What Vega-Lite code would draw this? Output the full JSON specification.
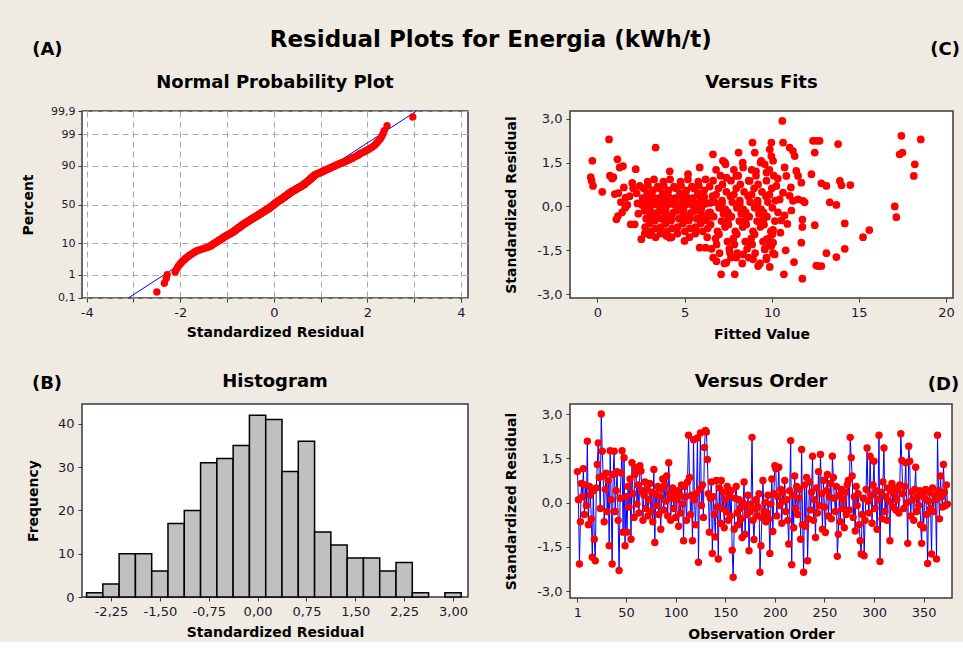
{
"$schema":"https://vega.github.io/schema/vega-lite/v6.json",
"background":"#EFEBE2",
"padding":{"left":20,"top":29,"right":3,"bottom":0},
"title":{"text":"Residual Plots for Energia (kWh/t)","fontSize":23,"frame":"bounds","anchor":"middle","offset":0,"dy":12},
"config":{
"font":"DejaVu Sans",
"view":{"stroke":"#3a3a3a","strokeWidth":1.5,"fill":"#FFFFFF"},
"axis":{"domain":false,"labelFont":"DejaVu Sans","labelFontSize":13,"labelColor":"#1a1a2e","titleFont":"DejaVu Sans","titleFontSize":14,"titleFontWeight":"bold","titleColor":"#000000","tickColor":"#3a3a3a","tickSize":4,"labelPadding":3,"labelFlush":false,"labelOverlap":false,"grid":false,"tickCount":20},
"title":{"font":"DejaVu Sans","fontSize":18,"fontWeight":"bold","color":"#000000","offset":0,"frame":"group"}
},
"columns":2,
"bounds":"flush",
"spacing":{"row":106,"column":102},
"datasets":{
"hist":[{"lo":-2.625,"hi":-2.375,"n":1},{"lo":-2.375,"hi":-2.125,"n":3},{"lo":-2.125,"hi":-1.875,"n":10},{"lo":-1.875,"hi":-1.625,"n":10},{"lo":-1.625,"hi":-1.375,"n":6},{"lo":-1.375,"hi":-1.125,"n":17},{"lo":-1.125,"hi":-0.875,"n":20},{"lo":-0.875,"hi":-0.625,"n":31},{"lo":-0.625,"hi":-0.375,"n":32},{"lo":-0.375,"hi":-0.125,"n":35},{"lo":-0.125,"hi":0.125,"n":42},{"lo":0.125,"hi":0.375,"n":41},{"lo":0.375,"hi":0.625,"n":29},{"lo":0.625,"hi":0.875,"n":36},{"lo":0.875,"hi":1.125,"n":15},{"lo":1.125,"hi":1.375,"n":12},{"lo":1.375,"hi":1.625,"n":9},{"lo":1.625,"hi":1.875,"n":9},{"lo":1.875,"hi":2.125,"n":6},{"lo":2.125,"hi":2.375,"n":8},{"lo":2.375,"hi":2.625,"n":1},{"lo":2.875,"hi":3.125,"n":1}],
"npp":[
{"r":-2.5,"z":-2.9},{"r":-2.34,"z":-2.61},{"r":-2.3,"z":-2.45},{"r":-2.28,"z":-2.33},{"r":-2.11,"z":-2.24},{"r":-2.09,"z":-2.17},{"r":-2.06,"z":-2.1},{"r":-2.04,"z":-2.04},{"r":-2.01,"z":-1.99},{"r":-1.99,"z":-1.95},
{"r":-1.96,"z":-1.9},{"r":-1.94,"z":-1.86},{"r":-1.91,"z":-1.83},{"r":-1.89,"z":-1.79},{"r":-1.86,"z":-1.76},{"r":-1.84,"z":-1.73},{"r":-1.81,"z":-1.7},{"r":-1.79,"z":-1.67},{"r":-1.76,"z":-1.65},{"r":-1.74,"z":-1.62},
{"r":-1.71,"z":-1.6},{"r":-1.69,"z":-1.57},{"r":-1.66,"z":-1.55},{"r":-1.64,"z":-1.53},{"r":-1.6,"z":-1.51},{"r":-1.56,"z":-1.49},{"r":-1.52,"z":-1.47},{"r":-1.48,"z":-1.45},{"r":-1.44,"z":-1.43},{"r":-1.4,"z":-1.41},
{"r":-1.37,"z":-1.39},{"r":-1.35,"z":-1.375},{"r":-1.34,"z":-1.358},{"r":-1.32,"z":-1.341},{"r":-1.31,"z":-1.325},{"r":-1.29,"z":-1.309},{"r":-1.28,"z":-1.293},{"r":-1.26,"z":-1.278},{"r":-1.25,"z":-1.263},{"r":-1.23,"z":-1.248},
{"r":-1.22,"z":-1.234},{"r":-1.2,"z":-1.22},{"r":-1.19,"z":-1.206},{"r":-1.17,"z":-1.192},{"r":-1.16,"z":-1.178},{"r":-1.15,"z":-1.165},{"r":-1.13,"z":-1.151},{"r":-1.12,"z":-1.14},{"r":-1.11,"z":-1.125},{"r":-1.09,"z":-1.113},
{"r":-1.08,"z":-1.1},{"r":-1.07,"z":-1.088},{"r":-1.06,"z":-1.076},{"r":-1.04,"z":-1.064},{"r":-1.03,"z":-1.052},{"r":-1.02,"z":-1.041},{"r":-1.01,"z":-1.029},{"r":-0.99,"z":-1.018},{"r":-0.98,"z":-1.007},{"r":-0.97,"z":-0.996},
{"r":-0.96,"z":-0.985},{"r":-0.94,"z":-0.974},{"r":-0.93,"z":-0.964},{"r":-0.92,"z":-0.953},{"r":-0.91,"z":-0.943},{"r":-0.89,"z":-0.932},{"r":-0.88,"z":-0.922},{"r":-0.87,"z":-0.91},{"r":-0.86,"z":-0.9},{"r":-0.85,"z":-0.89},
{"r":-0.85,"z":-0.88},{"r":-0.84,"z":-0.87},{"r":-0.83,"z":-0.86},{"r":-0.82,"z":-0.855},{"r":-0.81,"z":-0.845},{"r":-0.81,"z":-0.835},{"r":-0.8,"z":-0.826},{"r":-0.79,"z":-0.816},{"r":-0.78,"z":-0.807},{"r":-0.77,"z":-0.797},
{"r":-0.77,"z":-0.788},{"r":-0.76,"z":-0.779},{"r":-0.75,"z":-0.77},{"r":-0.74,"z":-0.761},{"r":-0.73,"z":-0.752},{"r":-0.73,"z":-0.743},{"r":-0.72,"z":-0.734},{"r":-0.71,"z":-0.726},{"r":-0.7,"z":-0.717},{"r":-0.69,"z":-0.708},
{"r":-0.69,"z":-0.699},{"r":-0.68,"z":-0.691},{"r":-0.67,"z":-0.682},{"r":-0.66,"z":-0.674},{"r":-0.65,"z":-0.665},{"r":-0.65,"z":-0.657},{"r":-0.64,"z":-0.648},{"r":-0.63,"z":-0.64},{"r":-0.62,"z":-0.632},{"r":-0.61,"z":-0.624},
{"r":-0.61,"z":-0.616},{"r":-0.6,"z":-0.608},{"r":-0.59,"z":-0.6},{"r":-0.58,"z":-0.592},{"r":-0.58,"z":-0.584},{"r":-0.57,"z":-0.576},{"r":-0.56,"z":-0.568},{"r":-0.55,"z":-0.56},{"r":-0.54,"z":-0.553},{"r":-0.54,"z":-0.545},
{"r":-0.53,"z":-0.537},{"r":-0.52,"z":-0.53},{"r":-0.51,"z":-0.522},{"r":-0.5,"z":-0.514},{"r":-0.5,"z":-0.507},{"r":-0.49,"z":-0.499},{"r":-0.48,"z":-0.491},{"r":-0.47,"z":-0.484},{"r":-0.47,"z":-0.476},{"r":-0.46,"z":-0.468},
{"r":-0.45,"z":-0.461},{"r":-0.44,"z":-0.454},{"r":-0.43,"z":-0.446},{"r":-0.43,"z":-0.439},{"r":-0.42,"z":-0.432},{"r":-0.41,"z":-0.424},{"r":-0.4,"z":-0.417},{"r":-0.4,"z":-0.41},{"r":-0.39,"z":-0.402},{"r":-0.38,"z":-0.395},
{"r":-0.37,"z":-0.388},{"r":-0.36,"z":-0.381},{"r":-0.36,"z":-0.374},{"r":-0.35,"z":-0.366},{"r":-0.34,"z":-0.359},{"r":-0.33,"z":-0.352},{"r":-0.33,"z":-0.345},{"r":-0.32,"z":-0.338},{"r":-0.31,"z":-0.331},{"r":-0.31,"z":-0.324},
{"r":-0.3,"z":-0.317},{"r":-0.29,"z":-0.31},{"r":-0.28,"z":-0.303},{"r":-0.28,"z":-0.295},{"r":-0.27,"z":-0.288},{"r":-0.26,"z":-0.281},{"r":-0.26,"z":-0.274},{"r":-0.25,"z":-0.267},{"r":-0.24,"z":-0.26},{"r":-0.24,"z":-0.253},
{"r":-0.23,"z":-0.246},{"r":-0.22,"z":-0.239},{"r":-0.21,"z":-0.233},{"r":-0.21,"z":-0.226},{"r":-0.2,"z":-0.219},{"r":-0.19,"z":-0.212},{"r":-0.19,"z":-0.205},{"r":-0.18,"z":-0.199},{"r":-0.17,"z":-0.192},{"r":-0.16,"z":-0.185},
{"r":-0.16,"z":-0.178},{"r":-0.15,"z":-0.171},{"r":-0.14,"z":-0.165},{"r":-0.14,"z":-0.158},{"r":-0.13,"z":-0.151},{"r":-0.12,"z":-0.144},{"r":-0.11,"z":-0.137},{"r":-0.11,"z":-0.131},{"r":-0.1,"z":-0.124},{"r":-0.1,"z":-0.117},
{"r":-0.09,"z":-0.11},{"r":-0.09,"z":-0.104},{"r":-0.08,"z":-0.097},{"r":-0.07,"z":-0.09},{"r":-0.07,"z":-0.084},{"r":-0.06,"z":-0.077},{"r":-0.06,"z":-0.07},{"r":-0.05,"z":-0.064},{"r":-0.05,"z":-0.057},{"r":-0.04,"z":-0.05},
{"r":-0.03,"z":-0.044},{"r":-0.03,"z":-0.037},{"r":-0.02,"z":-0.03},{"r":-0.02,"z":-0.023},{"r":-0.01,"z":-0.017},{"r":-0.01,"z":-0.01},{"r":0,"z":-0.003},{"r":0,"z":0.003},{"r":0.01,"z":0.01},{"r":0.01,"z":0.017},
{"r":0.02,"z":0.023},{"r":0.03,"z":0.03},{"r":0.03,"z":0.037},{"r":0.04,"z":0.044},{"r":0.04,"z":0.05},{"r":0.05,"z":0.057},{"r":0.05,"z":0.064},{"r":0.06,"z":0.07},{"r":0.07,"z":0.077},{"r":0.07,"z":0.084},
{"r":0.08,"z":0.09},{"r":0.08,"z":0.097},{"r":0.09,"z":0.104},{"r":0.09,"z":0.111},{"r":0.1,"z":0.117},{"r":0.11,"z":0.124},{"r":0.12,"z":0.131},{"r":0.13,"z":0.138},{"r":0.13,"z":0.144},{"r":0.14,"z":0.151},
{"r":0.14,"z":0.158},{"r":0.15,"z":0.165},{"r":0.16,"z":0.171},{"r":0.16,"z":0.178},{"r":0.17,"z":0.185},{"r":0.18,"z":0.192},{"r":0.18,"z":0.199},{"r":0.19,"z":0.205},{"r":0.19,"z":0.212},{"r":0.2,"z":0.219},
{"r":0.21,"z":0.226},{"r":0.21,"z":0.233},{"r":0.22,"z":0.24},{"r":0.22,"z":0.247},{"r":0.23,"z":0.253},{"r":0.24,"z":0.26},{"r":0.24,"z":0.267},{"r":0.25,"z":0.274},{"r":0.25,"z":0.281},{"r":0.26,"z":0.288},
{"r":0.27,"z":0.295},{"r":0.27,"z":0.302},{"r":0.28,"z":0.309},{"r":0.29,"z":0.316},{"r":0.29,"z":0.323},{"r":0.3,"z":0.331},{"r":0.3,"z":0.338},{"r":0.31,"z":0.345},{"r":0.32,"z":0.352},{"r":0.32,"z":0.359},
{"r":0.33,"z":0.366},{"r":0.33,"z":0.373},{"r":0.34,"z":0.381},{"r":0.35,"z":0.388},{"r":0.35,"z":0.395},{"r":0.36,"z":0.402},{"r":0.37,"z":0.41},{"r":0.37,"z":0.417},{"r":0.38,"z":0.424},{"r":0.39,"z":0.431},
{"r":0.4,"z":0.439},{"r":0.4,"z":0.446},{"r":0.41,"z":0.454},{"r":0.42,"z":0.461},{"r":0.43,"z":0.469},{"r":0.44,"z":0.476},{"r":0.45,"z":0.484},{"r":0.46,"z":0.491},{"r":0.47,"z":0.499},{"r":0.47,"z":0.506},
{"r":0.48,"z":0.514},{"r":0.49,"z":0.522},{"r":0.5,"z":0.529},{"r":0.51,"z":0.537},{"r":0.52,"z":0.545},{"r":0.53,"z":0.553},{"r":0.53,"z":0.561},{"r":0.54,"z":0.568},{"r":0.55,"z":0.576},{"r":0.56,"z":0.584},
{"r":0.57,"z":0.592},{"r":0.58,"z":0.6},{"r":0.59,"z":0.608},{"r":0.6,"z":0.616},{"r":0.6,"z":0.624},{"r":0.61,"z":0.632},{"r":0.62,"z":0.64},{"r":0.63,"z":0.648},{"r":0.64,"z":0.657},{"r":0.64,"z":0.665},
{"r":0.65,"z":0.674},{"r":0.66,"z":0.682},{"r":0.66,"z":0.691},{"r":0.67,"z":0.699},{"r":0.68,"z":0.708},{"r":0.68,"z":0.717},{"r":0.69,"z":0.726},{"r":0.7,"z":0.734},{"r":0.71,"z":0.743},{"r":0.71,"z":0.752},
{"r":0.72,"z":0.761},{"r":0.73,"z":0.77},{"r":0.73,"z":0.779},{"r":0.74,"z":0.788},{"r":0.75,"z":0.797},{"r":0.75,"z":0.806},{"r":0.76,"z":0.815},{"r":0.77,"z":0.825},{"r":0.78,"z":0.834},{"r":0.78,"z":0.843},
{"r":0.79,"z":0.853},{"r":0.8,"z":0.862},{"r":0.8,"z":0.872},{"r":0.81,"z":0.882},{"r":0.82,"z":0.892},{"r":0.82,"z":0.902},{"r":0.83,"z":0.912},{"r":0.84,"z":0.922},{"r":0.85,"z":0.932},{"r":0.85,"z":0.942},
{"r":0.86,"z":0.953},{"r":0.87,"z":0.964},{"r":0.87,"z":0.975},{"r":0.88,"z":0.986},{"r":0.9,"z":0.997},{"r":0.92,"z":1.008},{"r":0.93,"z":1.019},{"r":0.95,"z":1.03},{"r":0.97,"z":1.041},{"r":0.98,"z":1.053},
{"r":1,"z":1.065},{"r":1.02,"z":1.077},{"r":1.03,"z":1.089},{"r":1.05,"z":1.101},{"r":1.07,"z":1.113},{"r":1.08,"z":1.126},{"r":1.1,"z":1.138},{"r":1.12,"z":1.151},{"r":1.14,"z":1.165},{"r":1.16,"z":1.178},
{"r":1.18,"z":1.192},{"r":1.2,"z":1.206},{"r":1.22,"z":1.22},{"r":1.24,"z":1.234},{"r":1.26,"z":1.248},{"r":1.28,"z":1.263},{"r":1.3,"z":1.278},{"r":1.32,"z":1.293},{"r":1.34,"z":1.309},{"r":1.37,"z":1.324},
{"r":1.39,"z":1.341},{"r":1.42,"z":1.358},{"r":1.44,"z":1.375},{"r":1.47,"z":1.393},{"r":1.5,"z":1.41},{"r":1.53,"z":1.428},{"r":1.56,"z":1.447},{"r":1.58,"z":1.466},{"r":1.61,"z":1.486},{"r":1.64,"z":1.506},
{"r":1.67,"z":1.528},{"r":1.69,"z":1.55},{"r":1.72,"z":1.572},{"r":1.75,"z":1.596},{"r":1.78,"z":1.62},{"r":1.81,"z":1.645},{"r":1.83,"z":1.672},{"r":1.86,"z":1.7},{"r":1.9,"z":1.728},{"r":1.94,"z":1.759},
{"r":1.98,"z":1.791},{"r":2.02,"z":1.826},{"r":2.06,"z":1.863},{"r":2.1,"z":1.9},{"r":2.14,"z":1.945},{"r":2.17,"z":1.99},{"r":2.2,"z":2.04},{"r":2.23,"z":2.1},{"r":2.27,"z":2.165},{"r":2.3,"z":2.24},
{"r":2.33,"z":2.33},{"r":2.36,"z":2.45},{"r":2.42,"z":2.61},{"r":2.97,"z":2.9}
],
"obs":[
{"o":1,"r":1.05},{"o":2,"r":0.1},{"o":3,"r":-2.08},{"o":4,"r":-0.65},{"o":5,"r":0.65},{"o":6,"r":0.2},{"o":7,"r":1.15},{"o":8,"r":-0.4},{"o":9,"r":0.6},{"o":10,"r":-0.1},
{"o":11,"r":2.08},{"o":12,"r":-0.75},{"o":13,"r":0.55},{"o":14,"r":0.25},{"o":15,"r":-0.55},{"o":16,"r":-1.85},{"o":17,"r":0.4},{"o":18,"r":-1.24},{"o":19,"r":-1.97},{"o":20,"r":0.5},
{"o":21,"r":1.29},{"o":22,"r":2.02},{"o":23,"r":0.85},{"o":24,"r":-0.2},{"o":25,"r":3.0},{"o":26,"r":1.74},{"o":27,"r":0.9},{"o":28,"r":-0.65},{"o":29,"r":0.45},{"o":30,"r":1.0},
{"o":31,"r":-0.3},{"o":32,"r":0.75},{"o":33,"r":-1.46},{"o":34,"r":1.76},{"o":35,"r":0.1},{"o":36,"r":-2.08},{"o":37,"r":0.95},{"o":38,"r":1.74},{"o":39,"r":-0.3},{"o":40,"r":0.4},
{"o":41,"r":1.05},{"o":42,"r":-0.6},{"o":43,"r":-2.3},{"o":44,"r":0.15},{"o":45,"r":1.0},{"o":46,"r":1.76},{"o":47,"r":-1.0},{"o":48,"r":1.52},{"o":49,"r":-1.46},{"o":50,"r":0.2},
{"o":51,"r":-1.0},{"o":52,"r":0.55},{"o":53,"r":-0.15},{"o":54,"r":0.8},{"o":55,"r":-1.24},{"o":56,"r":1.35},{"o":57,"r":0.3},{"o":58,"r":-0.5},{"o":59,"r":0.95},{"o":60,"r":1.18},
{"o":61,"r":-0.05},{"o":62,"r":0.6},{"o":63,"r":-0.35},{"o":64,"r":1.25},{"o":65,"r":1.07},{"o":66,"r":0.4},{"o":67,"r":-0.6},{"o":68,"r":0.25},{"o":69,"r":0.7},{"o":70,"r":-0.2},
{"o":71,"r":0.45},{"o":72,"r":-0.45},{"o":73,"r":0.1},{"o":74,"r":0.65},{"o":75,"r":-0.3},{"o":76,"r":0.35},{"o":77,"r":-0.65},{"o":78,"r":1.12},{"o":79,"r":-1.35},{"o":80,"r":0.3},
{"o":81,"r":-0.1},{"o":82,"r":0.55},{"o":83,"r":-0.4},{"o":84,"r":0.2},{"o":85,"r":-0.9},{"o":86,"r":0.45},{"o":87,"r":0.8},{"o":88,"r":-0.25},{"o":89,"r":0.6},{"o":90,"r":0.05},
{"o":91,"r":0.9},{"o":92,"r":-0.45},{"o":93,"r":1.35},{"o":94,"r":0.3},{"o":95,"r":-0.6},{"o":96,"r":0.15},{"o":97,"r":0.5},{"o":98,"r":-0.2},{"o":99,"r":0.35},{"o":100,"r":-0.5},
{"o":101,"r":0.1},{"o":102,"r":0.4},{"o":103,"r":-0.8},{"o":104,"r":0.25},{"o":105,"r":-0.35},{"o":106,"r":0.6},{"o":107,"r":-0.05},{"o":108,"r":-1.29},{"o":109,"r":0.55},{"o":110,"r":0.2},
{"o":111,"r":-0.6},{"o":112,"r":0.7},{"o":113,"r":2.28},{"o":114,"r":0.85},{"o":115,"r":-0.4},{"o":116,"r":0.25},{"o":117,"r":-1.29},{"o":118,"r":2.13},{"o":119,"r":0.1},{"o":120,"r":-0.75},
{"o":121,"r":0.3},{"o":122,"r":2.19},{"o":123,"r":-2.02},{"o":124,"r":0.45},{"o":125,"r":2.36},{"o":126,"r":-0.1},{"o":127,"r":0.6},{"o":128,"r":-0.5},{"o":129,"r":1.87},{"o":130,"r":2.44},
{"o":131,"r":2.39},{"o":132,"r":1.46},{"o":133,"r":0.3},{"o":134,"r":-1.0},{"o":135,"r":0.15},{"o":136,"r":0.7},{"o":137,"r":-1.72},{"o":138,"r":0.2},{"o":139,"r":-0.4},{"o":140,"r":-1.16},
{"o":141,"r":0.75},{"o":142,"r":-0.15},{"o":143,"r":-1.91},{"o":144,"r":0.5},{"o":145,"r":-0.7},{"o":146,"r":0.75},{"o":147,"r":-0.2},{"o":148,"r":0.35},{"o":149,"r":-0.85},{"o":150,"r":0.1},
{"o":151,"r":-0.3},{"o":152,"r":0.55},{"o":153,"r":-0.6},{"o":154,"r":0.25},{"o":155,"r":-0.45},{"o":156,"r":0.4},{"o":157,"r":-1.61},{"o":158,"r":-2.53},{"o":159,"r":-0.9},{"o":160,"r":0.15},
{"o":161,"r":0.55},{"o":162,"r":-0.35},{"o":163,"r":-0.75},{"o":164,"r":0.1},{"o":165,"r":-0.2},{"o":166,"r":-0.55},{"o":167,"r":-1.18},{"o":168,"r":0.0},{"o":169,"r":0.7},{"o":170,"r":-1.07},
{"o":171,"r":-0.1},{"o":172,"r":-0.4},{"o":173,"r":0.25},{"o":174,"r":-1.63},{"o":175,"r":-0.3},{"o":176,"r":-0.05},{"o":177,"r":2.21},{"o":178,"r":-0.6},{"o":179,"r":-1.25},{"o":180,"r":-0.2},
{"o":181,"r":0.1},{"o":182,"r":-0.45},{"o":183,"r":-0.15},{"o":184,"r":0.3},{"o":185,"r":-2.36},{"o":186,"r":-1.46},{"o":187,"r":-0.5},{"o":188,"r":0.75},{"o":189,"r":-0.3},{"o":190,"r":0.0},
{"o":191,"r":-0.65},{"o":192,"r":-0.35},{"o":193,"r":0.25},{"o":194,"r":-0.55},{"o":195,"r":-1.72},{"o":196,"r":-0.05},{"o":197,"r":0.8},{"o":198,"r":-0.98},{"o":199,"r":0.3},{"o":200,"r":1.25},
{"o":201,"r":1.15},{"o":202,"r":-0.45},{"o":203,"r":0.2},{"o":204,"r":1.2},{"o":205,"r":-0.1},{"o":206,"r":0.45},{"o":207,"r":-0.7},{"o":208,"r":0.35},{"o":209,"r":0.05},{"o":210,"r":0.75},
{"o":211,"r":-0.3},{"o":212,"r":0.1},{"o":213,"r":-0.6},{"o":214,"r":-1.4},{"o":215,"r":0.4},{"o":216,"r":2.1},{"o":217,"r":-2.1},{"o":218,"r":0.25},{"o":219,"r":-0.85},{"o":220,"r":0.9},
{"o":221,"r":-0.2},{"o":222,"r":0.55},{"o":223,"r":-0.4},{"o":224,"r":0.15},{"o":225,"r":0.45},{"o":226,"r":-1.24},{"o":227,"r":1.8},{"o":228,"r":-0.75},{"o":229,"r":-2.36},{"o":230,"r":0.6},
{"o":231,"r":-0.8},{"o":232,"r":0.85},{"o":233,"r":-1.97},{"o":234,"r":-0.55},{"o":235,"r":0.7},{"o":236,"r":-0.25},{"o":237,"r":0.35},{"o":238,"r":1.57},{"o":239,"r":-0.6},{"o":240,"r":0.1},
{"o":241,"r":-1.18},{"o":242,"r":0.5},{"o":243,"r":-0.35},{"o":244,"r":1.05},{"o":245,"r":-0.1},{"o":246,"r":1.63},{"o":247,"r":0.3},{"o":248,"r":-0.9},{"o":249,"r":0.75},{"o":250,"r":-0.15},
{"o":251,"r":-1.01},{"o":252,"r":0.4},{"o":253,"r":0.95},{"o":254,"r":-0.45},{"o":255,"r":0.2},{"o":256,"r":0.65},{"o":257,"r":-0.55},{"o":258,"r":1.57},{"o":259,"r":0.85},{"o":260,"r":0.15},
{"o":261,"r":-0.3},{"o":262,"r":0.55},{"o":263,"r":-1.82},{"o":264,"r":-1.07},{"o":265,"r":0.25},{"o":266,"r":-0.65},{"o":267,"r":0.45},{"o":268,"r":-0.2},{"o":269,"r":0.1},{"o":270,"r":-0.85},
{"o":271,"r":0.35},{"o":272,"r":-0.4},{"o":273,"r":0.6},{"o":274,"r":0.75},{"o":275,"r":-0.25},{"o":276,"r":2.21},{"o":277,"r":1.52},{"o":278,"r":0.9},{"o":279,"r":-0.5},{"o":280,"r":0.2},
{"o":281,"r":-0.96},{"o":282,"r":0.55},{"o":283,"r":-0.1},{"o":284,"r":0.3},{"o":285,"r":-0.75},{"o":286,"r":-1.29},{"o":287,"r":-1.74},{"o":288,"r":-0.4},{"o":289,"r":0.15},{"o":290,"r":-1.8},
{"o":291,"r":-0.6},{"o":292,"r":0.45},{"o":293,"r":1.85},{"o":294,"r":0.05},{"o":295,"r":-0.35},{"o":296,"r":1.57},{"o":297,"r":0.25},{"o":298,"r":-0.7},{"o":299,"r":0.6},{"o":300,"r":1.4},
{"o":301,"r":-0.2},{"o":302,"r":0.4},{"o":303,"r":-0.9},{"o":304,"r":0.1},{"o":305,"r":2.28},{"o":306,"r":-1.99},{"o":307,"r":0.35},{"o":308,"r":-0.55},{"o":309,"r":0.7},{"o":310,"r":1.85},
{"o":311,"r":-0.3},{"o":312,"r":0.2},{"o":313,"r":-0.6},{"o":314,"r":0.5},{"o":315,"r":0.05},{"o":316,"r":-1.29},{"o":317,"r":0.4},{"o":318,"r":0.65},{"o":319,"r":-0.15},{"o":320,"r":0.3},
{"o":321,"r":0.5},{"o":322,"r":-0.25},{"o":323,"r":0.1},{"o":324,"r":0.45},{"o":325,"r":-0.35},{"o":326,"r":0.6},{"o":327,"r":2.33},{"o":328,"r":1.43},{"o":329,"r":0.3},{"o":330,"r":-0.2},
{"o":331,"r":0.55},{"o":332,"r":1.35},{"o":333,"r":0.0},{"o":334,"r":-1.38},{"o":335,"r":1.91},{"o":336,"r":1.4},{"o":337,"r":-0.45},{"o":338,"r":0.35},{"o":339,"r":0.1},{"o":340,"r":-0.6},
{"o":341,"r":0.45},{"o":342,"r":1.2},{"o":343,"r":-0.3},{"o":344,"r":0.2},{"o":345,"r":-0.1},{"o":346,"r":0.4},{"o":347,"r":-0.75},{"o":348,"r":-1.38},{"o":349,"r":0.25},{"o":350,"r":-0.85},
{"o":351,"r":0.15},{"o":352,"r":0.45},{"o":353,"r":-0.4},{"o":354,"r":-2.06},{"o":355,"r":0.05},{"o":356,"r":0.35},{"o":357,"r":-0.2},{"o":358,"r":-1.74},{"o":359,"r":0.5},{"o":360,"r":-0.3},
{"o":361,"r":0.25},{"o":362,"r":0.1},{"o":363,"r":-1.91},{"o":364,"r":2.28},{"o":365,"r":0.4},{"o":366,"r":-0.55},{"o":367,"r":0.9},{"o":368,"r":0.2},{"o":369,"r":-0.15},{"o":370,"r":1.29},
{"o":371,"r":0.35},{"o":372,"r":-0.1},{"o":373,"r":0.6},{"o":374,"r":-0.05}
],
"fits":[
{"f":-0.29,"r":1.56},{"f":-0.38,"r":1.0},{"f":-0.25,"r":0.7},{"f":-0.33,"r":0.88},{"f":0.28,"r":0.5},{"f":0.67,"r":2.29},{"f":0.72,"r":1.05},{"f":0.85,"r":0.95},{"f":1.0,"r":0.42},{"f":0.92,"r":1.0},
{"f":1.15,"r":1.61},{"f":1.28,"r":1.33},{"f":1.47,"r":1.38},{"f":1.2,"r":0.45},{"f":1.35,"r":0.15},{"f":1.52,"r":0.65},{"f":1.62,"r":0.3},{"f":1.09,"r":-0.44},{"f":1.18,"r":-0.33},{"f":1.42,"r":-0.2},
{"f":1.72,"r":0.05},{"f":1.85,"r":0.35},{"f":2.0,"r":0.8},{"f":2.05,"r":0.62},{"f":2.2,"r":1.27},{"f":2.14,"r":-0.61},{"f":2.3,"r":0.1},{"f":2.43,"r":0.7},{"f":2.52,"r":-1.12},{"f":2.35,"r":-0.25},
{"f":1.91,"r":-0.61},{"f":1.6,"r":-0.05},{"f":2.25,"r":0.45},
{"f":3.0,"r":-0.98},{"f":3.34,"r":2.01},{"f":3.96,"r":-1.01},{"f":4.15,"r":-1.07},{"f":4.15,"r":1.2},{"f":5.0,"r":-1.18},{"f":5.2,"r":1.1},{"f":5.68,"r":-0.84},{"f":5.87,"r":1.33},{"f":5.87,"r":-1.41},
{"f":6.21,"r":-1.41},{"f":6.63,"r":1.78},{"f":7.2,"r":1.56},{"f":7.35,"r":1.44},{"f":8.1,"r":1.84},{"f":8.9,"r":2.18},{"f":9.03,"r":1.84},{"f":8.36,"r":1.33},{"f":7.41,"r":0.98},{"f":7.97,"r":1.04},
{"f":9.1,"r":1.2},{"f":8.74,"r":0.87},{"f":9.4,"r":1.56},{"f":6.83,"r":-1.87},{"f":7.1,"r":-2.32},{"f":7.88,"r":-2.32},{"f":7.4,"r":-1.92},{"f":7.6,"r":-1.58},{"f":7.97,"r":-1.75},{"f":8.36,"r":-1.64},
{"f":8.93,"r":-1.81},{"f":9.22,"r":-2.04},{"f":8.74,"r":-1.24},{"f":9.98,"r":2.18},{"f":9.89,"r":1.95},{"f":9.98,"r":1.72},{"f":10.08,"r":1.56},{"f":9.6,"r":1.44},{"f":9.7,"r":1.16},{"f":10.08,"r":-0.8},
{"f":9.89,"r":-1.08},{"f":10.08,"r":-1.24},{"f":9.6,"r":-1.47},{"f":9.7,"r":-1.81},{"f":9.89,"r":-2.07},{"f":9.7,"r":-1.13},{"f":10.17,"r":-1.64},{"f":9.98,"r":-1.35},
{"f":10.61,"r":2.92},{"f":10.65,"r":2.18},{"f":11.03,"r":2.01},{"f":11.22,"r":1.89},{"f":11.32,"r":1.72},{"f":10.74,"r":1.33},{"f":10.84,"r":1.04},{"f":11.41,"r":1.21},{"f":11.51,"r":1.04},{"f":11.7,"r":0.81},
{"f":10.27,"r":0.7},{"f":10.65,"r":0.47},{"f":11.03,"r":0.36},{"f":10.46,"r":0.24},{"f":11.22,"r":0.19},{"f":11.51,"r":0.24},{"f":11.8,"r":0.19},{"f":11.89,"r":0.14},{"f":10.36,"r":-0.2},{"f":10.74,"r":-0.31},
{"f":11.13,"r":-0.14},{"f":10.55,"r":-0.48},{"f":11.28,"r":-1.9},{"f":11.7,"r":-1.24},{"f":11.76,"r":-0.45},{"f":11.76,"r":-0.7},{"f":10.7,"r":-2.32},{"f":11.76,"r":-2.47},{"f":12.28,"r":1.1},{"f":12.47,"r":1.84},
{"f":12.37,"r":2.24},{"f":12.56,"r":2.24},{"f":12.75,"r":2.24},{"f":13.81,"r":2.13},{"f":12.85,"r":0.79},{"f":13.14,"r":0.7},{"f":13.91,"r":0.87},{"f":14.0,"r":0.72},{"f":14.51,"r":0.73},{"f":13.33,"r":0.14},
{"f":13.71,"r":0.05},{"f":12.47,"r":-0.64},{"f":14.19,"r":-0.58},{"f":15.6,"r":-0.81},{"f":15.24,"r":-1.05},{"f":14.19,"r":-1.45},{"f":13.71,"r":-1.73},{"f":13.14,"r":-1.6},{"f":12.66,"r":-2.04},{"f":12.85,"r":-2.04},
{"f":12.56,"r":-2.02},{"f":17.06,"r":0.0},{"f":17.15,"r":-0.37},{"f":17.44,"r":2.41},{"f":18.55,"r":2.29},{"f":17.34,"r":1.78},{"f":17.5,"r":1.84},{"f":18.21,"r":1.44},{"f":18.15,"r":1.04},{"f":10.5,"r":-0.9},
{"f":10.9,"r":-0.6},{"f":10.35,"r":0.95},{"f":11.1,"r":0.65},{"f":10.8,"r":-1.5},
{"f":2.65,"r":0.62},{"f":2.71,"r":-0.15},{"f":2.6,"r":0.28},{"f":2.74,"r":-0.71},{"f":2.57,"r":0.05},
{"f":2.8,"r":-0.42},{"f":2.86,"r":0.45},{"f":2.75,"r":-0.05},{"f":2.89,"r":0.85},{"f":2.72,"r":-0.93},
{"f":2.95,"r":0.15},{"f":3.01,"r":-0.58},{"f":2.9,"r":0.72},{"f":3.04,"r":-0.28},{"f":2.87,"r":0.38},
{"f":3.1,"r":-0.85},{"f":3.16,"r":0.22},{"f":3.05,"r":-0.35},{"f":3.19,"r":0.55},{"f":3.02,"r":-0.1},
{"f":3.25,"r":0.92},{"f":3.31,"r":-0.48},{"f":3.2,"r":0.08},{"f":3.34,"r":-1.05},{"f":3.17,"r":0.33},
{"f":3.4,"r":-0.22},{"f":3.46,"r":0.68},{"f":3.35,"r":-0.75},{"f":3.49,"r":0.12},{"f":3.32,"r":-0.4},
{"f":3.55,"r":0.62},{"f":3.61,"r":-0.15},{"f":3.5,"r":0.28},{"f":3.64,"r":-0.71},{"f":3.47,"r":0.05},
{"f":3.7,"r":-0.42},{"f":3.76,"r":0.45},{"f":3.65,"r":-0.05},{"f":3.79,"r":0.85},{"f":3.62,"r":-0.93},
{"f":3.85,"r":0.15},{"f":3.91,"r":-0.58},{"f":3.8,"r":0.72},{"f":3.94,"r":-0.28},{"f":3.77,"r":0.38},
{"f":4.0,"r":-0.85},{"f":4.06,"r":0.22},{"f":3.95,"r":-0.35},{"f":4.09,"r":0.55},{"f":3.92,"r":-0.1},
{"f":4.17,"r":0.92},{"f":4.23,"r":-0.48},{"f":4.12,"r":0.08},{"f":4.26,"r":-1.05},{"f":4.09,"r":0.33},
{"f":4.34,"r":-0.22},{"f":4.4,"r":0.68},{"f":4.29,"r":-0.75},{"f":4.43,"r":0.12},{"f":4.26,"r":-0.4},
{"f":4.51,"r":0.62},{"f":4.57,"r":-0.15},{"f":4.46,"r":0.28},{"f":4.6,"r":-0.71},{"f":4.43,"r":0.05},
{"f":4.68,"r":-0.42},{"f":4.74,"r":0.45},{"f":4.63,"r":-0.05},{"f":4.77,"r":0.85},{"f":4.6,"r":-0.93},
{"f":4.85,"r":0.15},{"f":4.91,"r":-0.58},{"f":4.8,"r":0.72},{"f":4.94,"r":-0.28},{"f":4.77,"r":0.38},
{"f":5.02,"r":-0.85},{"f":5.08,"r":0.22},{"f":4.97,"r":-0.35},{"f":5.11,"r":0.55},{"f":4.94,"r":-0.1},
{"f":5.19,"r":0.92},{"f":5.25,"r":-0.48},{"f":5.14,"r":0.08},{"f":5.28,"r":-1.05},{"f":5.11,"r":0.33},
{"f":5.36,"r":-0.22},{"f":5.42,"r":0.68},{"f":5.31,"r":-0.75},{"f":5.45,"r":0.12},{"f":5.28,"r":-0.4},
{"f":5.53,"r":0.62},{"f":5.59,"r":-0.15},{"f":5.48,"r":0.28},{"f":5.62,"r":-0.71},{"f":5.45,"r":0.05},
{"f":5.7,"r":-0.42},{"f":5.76,"r":0.45},{"f":5.65,"r":-0.05},{"f":5.79,"r":0.85},{"f":5.62,"r":-0.93},
{"f":5.87,"r":0.15},{"f":5.93,"r":-0.58},{"f":5.82,"r":0.72},{"f":5.96,"r":-0.28},{"f":5.79,"r":0.38},
{"f":6.04,"r":-0.85},{"f":6.1,"r":0.22},{"f":5.99,"r":-0.35},{"f":6.13,"r":0.55},{"f":5.96,"r":-0.1},
{"f":6.21,"r":0.92},{"f":6.27,"r":-0.48},{"f":6.16,"r":0.08},{"f":6.3,"r":-1.05},{"f":6.13,"r":0.33},
{"f":6.38,"r":-0.22},{"f":6.44,"r":0.68},{"f":6.33,"r":-0.75},{"f":6.47,"r":0.12},{"f":6.3,"r":-0.4},
{"f":6.55,"r":-1.45},{"f":6.61,"r":0.35},{"f":6.5,"r":-0.62},{"f":6.64,"r":0.88},{"f":6.47,"r":-0.2},
{"f":6.72,"r":0.15},{"f":6.78,"r":-1.1},{"f":6.67,"r":-0.35},{"f":6.81,"r":1.25},{"f":6.64,"r":-1.75},
{"f":6.89,"r":-0.85},{"f":6.95,"r":0.62},{"f":6.84,"r":-1.3},{"f":6.98,"r":-0.05},{"f":6.81,"r":0.4},
{"f":7.06,"r":1.05},{"f":7.12,"r":-0.5},{"f":7.01,"r":-1.6},{"f":7.15,"r":0.2},{"f":6.98,"r":-0.95},
{"f":7.23,"r":-0.25},{"f":7.29,"r":-1.95},{"f":7.18,"r":0.75},{"f":7.32,"r":-0.7},{"f":7.15,"r":0.1},
{"f":7.4,"r":0.5},{"f":7.46,"r":-1.2},{"f":7.35,"r":-0.1},{"f":7.49,"r":-0.45},{"f":7.32,"r":1.5},
{"f":7.57,"r":-1.45},{"f":7.63,"r":0.35},{"f":7.52,"r":-0.62},{"f":7.66,"r":0.88},{"f":7.49,"r":-0.2},
{"f":7.74,"r":0.15},{"f":7.8,"r":-1.1},{"f":7.69,"r":-0.35},{"f":7.83,"r":1.25},{"f":7.66,"r":-1.75},
{"f":7.91,"r":-0.85},{"f":7.97,"r":0.62},{"f":7.86,"r":-1.3},{"f":8.0,"r":-0.05},{"f":7.83,"r":0.4},
{"f":8.08,"r":1.05},{"f":8.14,"r":-0.5},{"f":8.03,"r":-1.6},{"f":8.17,"r":0.2},{"f":8.0,"r":-0.95},
{"f":8.25,"r":-0.25},{"f":8.31,"r":-1.95},{"f":8.2,"r":0.75},{"f":8.34,"r":-0.7},{"f":8.17,"r":0.1},
{"f":8.42,"r":0.5},{"f":8.48,"r":-1.2},{"f":8.37,"r":-0.1},{"f":8.51,"r":-0.45},{"f":8.34,"r":1.5},
{"f":8.59,"r":-1.45},{"f":8.65,"r":0.35},{"f":8.54,"r":-0.62},{"f":8.68,"r":0.88},{"f":8.51,"r":-0.2},
{"f":8.76,"r":0.15},{"f":8.82,"r":-1.1},{"f":8.71,"r":-0.35},{"f":8.85,"r":1.25},{"f":8.68,"r":-1.75},
{"f":8.93,"r":-0.85},{"f":8.99,"r":0.62},{"f":8.88,"r":-1.3},{"f":9.02,"r":-0.05},{"f":8.85,"r":0.4},
{"f":9.1,"r":1.05},{"f":9.16,"r":-0.5},{"f":9.05,"r":-1.6},{"f":9.19,"r":0.2},{"f":9.02,"r":-0.95},
{"f":9.27,"r":-0.25},{"f":9.33,"r":-1.95},{"f":9.22,"r":0.75},{"f":9.36,"r":-0.7},{"f":9.19,"r":0.1},
{"f":9.44,"r":0.5},{"f":9.5,"r":-1.2},{"f":9.39,"r":-0.1},{"f":9.53,"r":-0.45},{"f":9.36,"r":1.5},
{"f":9.61,"r":-1.45},{"f":9.67,"r":0.35},{"f":9.56,"r":-0.62},{"f":9.7,"r":0.88},{"f":9.53,"r":-0.2},
{"f":9.78,"r":0.15},{"f":9.84,"r":-1.1},{"f":9.73,"r":-0.35},{"f":9.87,"r":1.25},{"f":9.7,"r":-1.75},
{"f":9.95,"r":-0.85},{"f":10.01,"r":0.62},{"f":9.9,"r":-1.3},{"f":10.04,"r":-0.05},{"f":9.87,"r":0.4},
{"f":10.12,"r":1.05},{"f":10.18,"r":-0.5},{"f":10.07,"r":-1.6},{"f":10.21,"r":0.2},{"f":10.04,"r":-0.95}
]
},
"concat":[
{
"width":386,"height":187,
"title":{"text":"Normal Probability Plot","dy":55},
"layer":[
{"data":{"values":[{"r":-3.11,"z":-3.1},{"r":3.05,"z":3.1}]},
"mark":{"type":"line","color":"#0000FF","strokeWidth":1},
"encoding":{
"x":{"field":"r","type":"quantitative","scale":{"domain":[-4.1,4.15],"nice":false,"zero":false},"axis":{"title":"Standardized Residual","values":[-4,-3,-2,-1,0,1,2,3,4],"grid":true,"gridDash":[6,4],"gridColor":"#a8a8a8","labelExpr":"datum.value % 2 == 0 ? '' + datum.value : ''","labelPadding":4,"titlePadding":6}},
"y":{"field":"z","type":"quantitative","scale":{"domain":[-3.1,3.1],"nice":false,"zero":false},"axis":{"title":"Percent","values":[-3.09,-2.326,-1.2816,0,1.2816,2.326,3.09],"tickCount":20,"grid":true,"gridDash":[6,4],"gridColor":"#a8a8a8","labelFontSize":11,"labelExpr":"datum.value < -3 ? '0,1' : datum.value < -2 ? '1' : datum.value < -1 ? '10' : datum.value < 1 ? '50' : datum.value < 2 ? '90' : datum.value < 3 ? '99' : '99,9'","titlePadding":15}}
}},
{"data":{"name":"npp"},
"mark":{"type":"circle","color":"#FF0000","size":55,"opacity":1},
"encoding":{
"x":{"field":"r","type":"quantitative","scale":{"domain":[-4.1,4.15],"nice":false,"zero":false},"axis":{"title":"Standardized Residual"}},
"y":{"field":"z","type":"quantitative","scale":{"domain":[-3.1,3.1],"nice":false,"zero":false},"axis":{"title":"Percent"}}
}},
{"data":{"values":[{"t":"(A)"}]},
"mark":{"type":"text","fontSize":18,"fontWeight":"bold","align":"left","baseline":"alphabetic","color":"#000000"},
"encoding":{
"x":{"datum":-5.165,"type":"quantitative","scale":{"domain":[-4.1,4.15],"nice":false,"zero":false},"axis":{"title":"Standardized Residual"}},
"y":{"datum":4.96,"type":"quantitative","scale":{"domain":[-3.1,3.1],"nice":false,"zero":false},"axis":{"title":"Percent"}},
"text":{"field":"t"}
}}
]
},
{
"width":383,"height":187,
"title":{"text":"Versus Fits","dy":55},
"layer":[
{"mark":{"type":"rule","color":"#555555","strokeWidth":2},
"encoding":{"y":{"datum":0,"type":"quantitative","scale":{"domain":[-3.13,3.26],"nice":false,"zero":false}}}},
{"data":{"name":"fits"},
"mark":{"type":"circle","color":"#FF0000","size":60,"opacity":1},
"encoding":{
"x":{"field":"f","type":"quantitative","scale":{"domain":[-1.57,20.4],"nice":false,"zero":false},"axis":{"title":"Fitted Value","values":[0,5,10,15,20],"labelPadding":4,"titlePadding":8}},
"y":{"field":"r","type":"quantitative","scale":{"domain":[-3.13,3.26],"nice":false,"zero":false},"axis":{"title":"Standardized Residual","values":[-3,-1.5,0,1.5,3],"labelExpr":"(datum.value < 0 ? '-' : '') + replace(format(abs(datum.value), '.1f'), '.', ',')","labelPadding":4,"titlePadding":18}}
}},
{"data":{"values":[{"t":"(C)"}]},
"mark":{"type":"text","fontSize":18,"fontWeight":"bold","align":"right","baseline":"alphabetic","color":"#000000"},
"encoding":{
"x":{"datum":20.8,"type":"quantitative","scale":{"domain":[-1.57,20.4],"nice":false,"zero":false},"axis":{"title":"Fitted Value"}},
"y":{"datum":5.17,"type":"quantitative","scale":{"domain":[-3.13,3.26],"nice":false,"zero":false},"axis":{"title":"Standardized Residual"}},
"text":{"field":"t"}
}}
]
},
{
"width":386,"height":193,
"title":{"text":"Histogram","dy":20.5},
"layer":[
{"data":{"name":"hist"},
"mark":{"type":"rect","color":"#C0C0C0","stroke":"#000000","strokeWidth":1.5},
"encoding":{
"x":{"field":"lo","type":"quantitative","scale":{"domain":[-2.695,3.23],"nice":false,"zero":false},"axis":{"title":"Standardized Residual","values":[-2.25,-1.5,-0.75,0,0.75,1.5,2.25,3],"labelExpr":"(datum.value < 0 ? '-' : '') + replace(format(abs(datum.value), '.2f'), '.', ',')","labelPadding":4,"titlePadding":7}},
"x2":{"field":"hi"},
"y":{"field":"n","type":"quantitative","scale":{"domain":[0,44.6],"nice":false,"zero":true},"axis":{"title":"Frequency","values":[0,10,20,30,40],"labelPadding":4,"titlePadding":17}},
"y2":{"datum":0}
}},
{"data":{"values":[{"t":"(B)"}]},
"mark":{"type":"text","fontSize":18,"fontWeight":"bold","align":"left","baseline":"alphabetic","color":"#000000"},
"encoding":{
"x":{"datum":-3.464,"type":"quantitative","scale":{"domain":[-2.695,3.23],"nice":false,"zero":false},"axis":{"title":"Standardized Residual"}},
"y":{"datum":48.16,"type":"quantitative","scale":{"domain":[0,44.6],"nice":false,"zero":true},"axis":{"title":"Frequency"}},
"text":{"field":"t"}
}}
]
},
{
"width":382,"height":194,
"title":{"text":"Versus Order","dy":19},
"layer":[
{"mark":{"type":"rule","color":"#555555","strokeWidth":2},
"encoding":{"y":{"datum":0,"type":"quantitative","scale":{"domain":[-3.23,3.34],"nice":false,"zero":false}}}},
{"data":{"name":"obs"},
"mark":{"type":"line","color":"#0000FF","strokeWidth":1},
"encoding":{
"x":{"field":"o","type":"quantitative","scale":{"domain":[-6.5,378.6],"nice":false,"zero":false},"axis":{"title":"Observation Order","values":[1,50,100,150,200,250,300,350],"labelPadding":4,"titlePadding":8}},
"y":{"field":"r","type":"quantitative","scale":{"domain":[-3.23,3.34],"nice":false,"zero":false},"axis":{"title":"Standardized Residual","values":[-3,-1.5,0,1.5,3],"labelExpr":"(datum.value < 0 ? '-' : '') + replace(format(abs(datum.value), '.1f'), '.', ',')","labelPadding":4,"titlePadding":18}}
}},
{"data":{"name":"obs"},
"mark":{"type":"circle","color":"#FF0000","size":55,"opacity":1},
"encoding":{
"x":{"field":"o","type":"quantitative","scale":{"domain":[-6.5,378.6],"nice":false,"zero":false},"axis":{"title":"Observation Order"}},
"y":{"field":"r","type":"quantitative","scale":{"domain":[-3.23,3.34],"nice":false,"zero":false},"axis":{"title":"Standardized Residual"}}
}},
{"data":{"values":[{"t":"(D)"}]},
"mark":{"type":"text","fontSize":18,"fontWeight":"bold","align":"right","baseline":"alphabetic","color":"#000000"},
"encoding":{
"x":{"datum":385.9,"type":"quantitative","scale":{"domain":[-6.5,378.6],"nice":false,"zero":false},"axis":{"title":"Observation Order"}},
"y":{"datum":3.8,"type":"quantitative","scale":{"domain":[-3.23,3.34],"nice":false,"zero":false},"axis":{"title":"Standardized Residual"}},
"text":{"field":"t"}
}}
]
}
]
}
